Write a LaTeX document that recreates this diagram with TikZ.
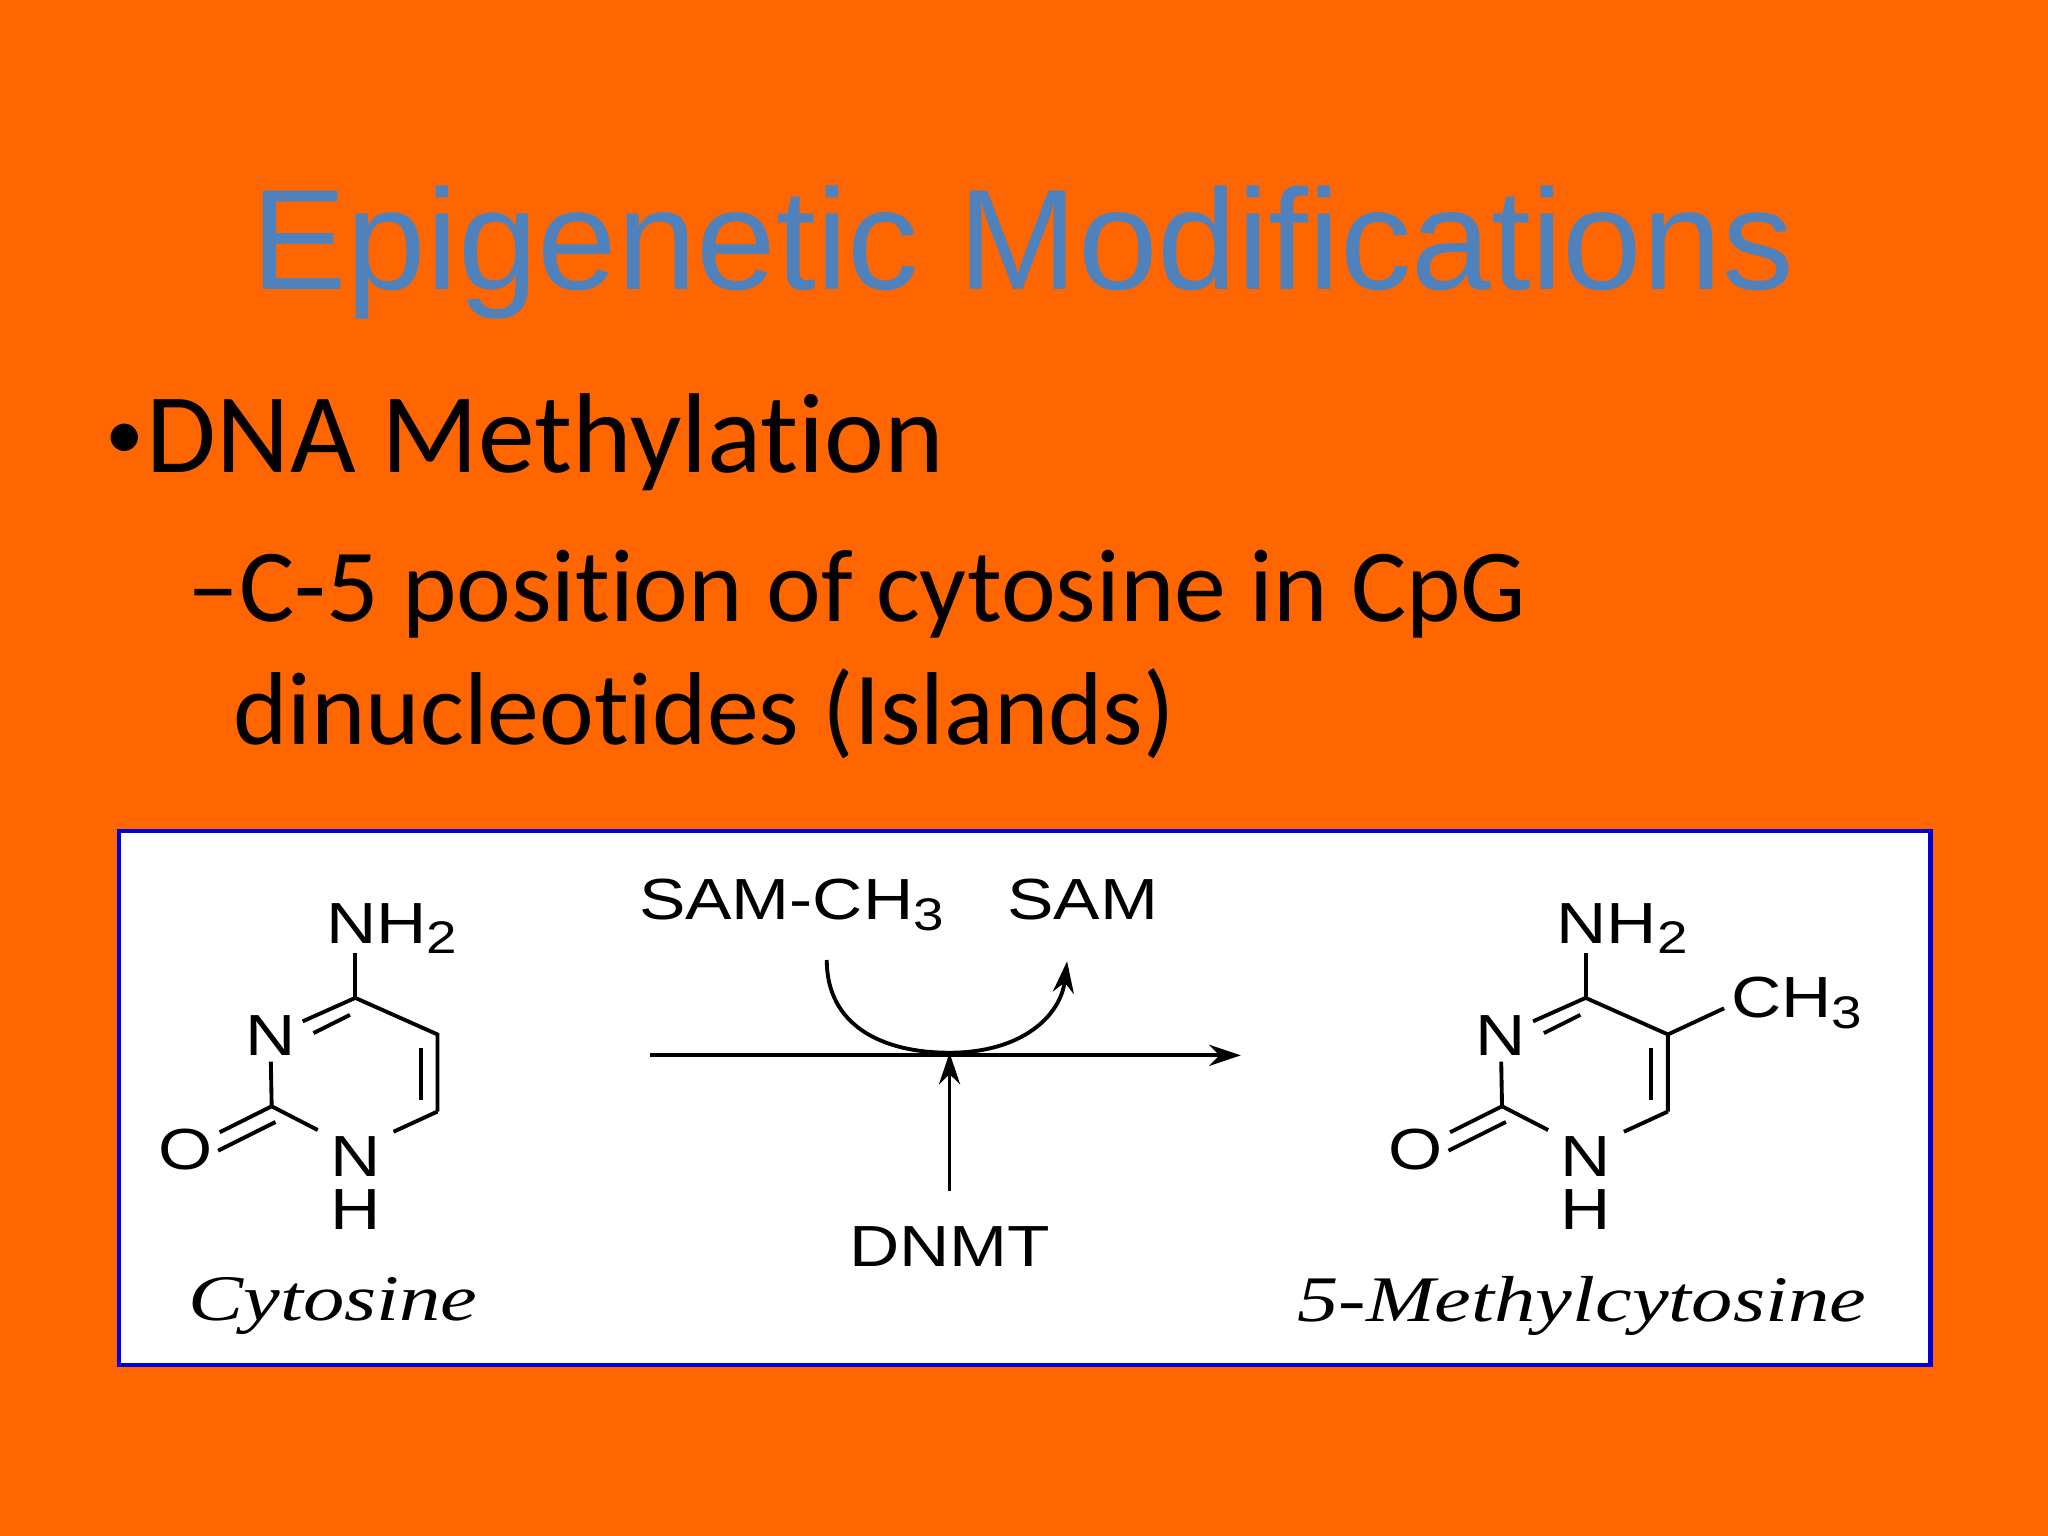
\documentclass[tikz,border=0pt]{standalone}
\usepackage{fontspec}
\setmainfont{Liberation Sans}
\newfontfamily\calfont[Ligatures={NoCommon}]{Carlito}
\newfontfamily\tmsfont{Liberation Serif}
\usetikzlibrary{arrows.meta}
\definecolor{bg}{HTML}{FF6600}
\definecolor{ttl}{HTML}{4F81BD}
\definecolor{bx}{HTML}{0000DD}
\newcommand{\sbs}[1]{\raisebox{-0.35ex}{\fontsize{13}{13}\selectfont #1}}
\begin{document}
\begin{tikzpicture}[x=0.013061cm,y=-0.013061cm,
  atom/.style={inner sep=1.5pt,xscale=1.2,font=\fontsize{16.5}{16.5}\selectfont},
  lbl/.style={inner sep=1.5pt,xscale=1.27,font=\tmsfont\itshape\fontsize{18.5}{18.5}\selectfont},
  bond/.style={line width=1.1pt},
  arr/.style={line width=1.1pt,-{Stealth[length=9pt,width=6pt]}}]
\fill[bg] (0,0) rectangle (1568,1176);
\useasboundingbox (0,0) rectangle (1568,1176);
\node[anchor=base,text=ttl,font=\fontsize{40.7}{40.7}\selectfont] (title) at (783,222) {Epigenetic Modifications};
\node[anchor=base west,inner sep=0,font=\calfont\fontsize{22}{22}\selectfont] (bul) at (80,352) {•};
\node[anchor=base west,inner sep=0,font=\calfont\fontsize{32.3}{32.3}\selectfont] (b1) at (112,362) {DNA Methylation};
\node[anchor=base west,inner sep=0,font=\calfont\fontsize{29.5}{29.5}\selectfont] (b2) at (143,476) {–C-5 position of cytosine in CpG};
\node[anchor=base west,inner sep=0,font=\calfont\fontsize{29.5}{29.5}\selectfont] (b3) at (178,570) {dinucleotides (Islands)};
\draw[fill=white,draw=bx,line width=1.2pt] (91,636) rectangle (1478,1045);
% cytosine and 5-methylcytosine
\foreach \s/\p in {0/a,942/b}{
\begin{scope}[xshift=\s*0.013061cm]
\coordinate (\p c4) at (272,764);
\coordinate (\p c5) at (335,792);
\coordinate (\p c6) at (335,851);
\coordinate (\p c2) at (208,847);
\coordinate (\p n1c) at (272,880);
\node[atom] (\p n3) at (207,793) {N};
\node[atom,align=center,anchor=north,font=\fontsize{16.5}{15}\selectfont] (\p n1) at (272,866) {N\\H};
\node[atom] (\p o) at (142,880) {O};
\node[atom,anchor=base] (\p nh) at (300,722) {NH\sbs{2}};
\draw[bond] (\p c4) -- (272,730);
\draw[bond] (\p c4) -- (\p c5) -- (\p c6);
\draw[bond,shorten >=12pt] (\p c6) -- (\p n1c);
\draw[bond,shorten >=12pt] (\p c2) -- (\p n1c);
\draw[bond] (\p c2) -- (\p n3) -- (\p c4);
\draw[bond] (268,777) -- (240,791);
\draw[bond] (322,802) -- (322,842);
\draw[bond] (\p c2) -- (\p o);
\draw[bond] (211,859) -- (167,881);
\end{scope}}
\draw[bond] (bc5) -- (1320,772);
\node[atom,anchor=base west,inner sep=0] (ch3) at (1325,779) {CH\sbs{3}};
\node[lbl] (cyt) at (255,1000) {Cytosine};
\node[lbl] (mcyt) at (1211,1000) {5-Methylcytosine};
% reaction
\coordinate (r0) at (498,808);
\coordinate (r1) at (950,808);
\coordinate (mid) at (727,806);
\draw[arr] (r0) -- (r1);
\node[atom,anchor=base] (sam1) at (606,704) {SAM-CH\sbs{3}};
\node[atom,anchor=base] (sam2) at (829,704) {SAM};
\node[atom,anchor=base] (dnmt) at (727,970) {DNMT};
\coordinate (d0) at (727,912);
\draw[arr] (d0) -- (mid);
\coordinate (c0) at (633,735);
\coordinate (c1) at (817,736);
\draw[arr] (c0) .. controls (633,785) and (675,806) .. (mid) .. controls (782,806) and (812,778) .. (c1);
\end{tikzpicture}
\end{document}
